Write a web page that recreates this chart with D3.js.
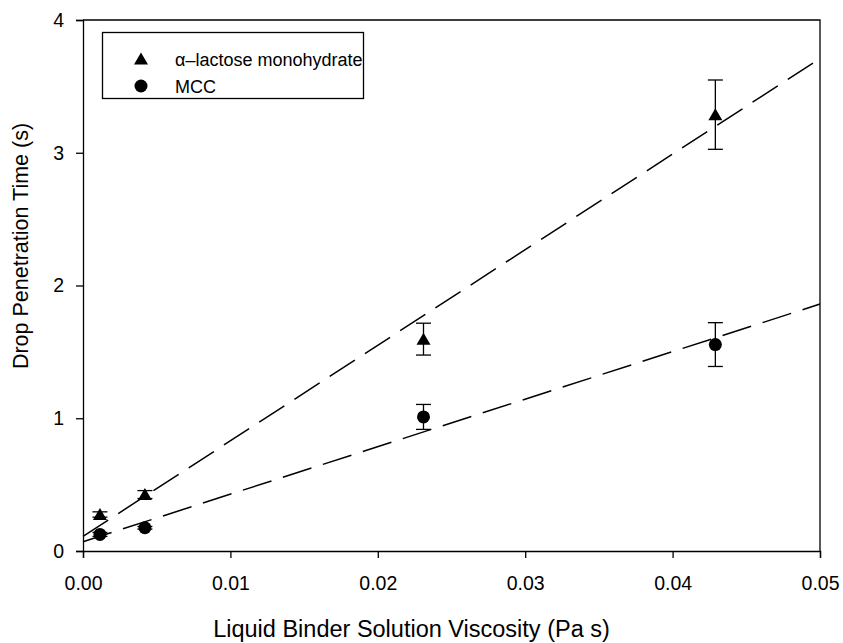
<!DOCTYPE html>
<html>
<head>
<meta charset="utf-8">
<script src="https://cdn.jsdelivr.net/npm/d3@7"></script>
<style>
  html, body { margin: 0; padding: 0; background: #fff; }
  svg { display: block; font-family: Arial, "Liberation Sans", sans-serif; }
</style>
</head>
<body>
<svg id="chart" width="843" height="643"></svg>
<script>
// Viscosity of the binder solution (Pa s)
const viscosity = [0.00115, 0.0042, 0.0231, 0.0429];

// Drop penetration time (s) and standard deviations
const lactoseTime = [0.275, 0.425, 1.596, 3.287];
const lactoseErr  = [0.02, 0.03, 0.12, 0.261];
const mccTime     = [0.125, 0.175, 1.01, 1.555];
const mccErr      = [0.015, 0.01, 0.094, 0.165];

// Linear fits, evaluated at the ends of the x range
const fitX       = [0, 0.05];
const fitLactose = [0.11, 3.71];
const fitMCC     = [0.07, 1.86];

const xTicks = [0, 0.01, 0.02, 0.03, 0.04, 0.05];
const yTicks = [0, 1, 2, 3, 4];

const legendLabels = ["\u03b1\u2013lactose monohydrate", "MCC"];

const margin = { left: 83, right: 23, top: 20, bottom: 92 };
const W = 843, H = 643;
const svg = d3.select("#chart");

const x = d3.scaleLinear().domain([0, 0.05]).range([margin.left, W - margin.right]);
const y = d3.scaleLinear().domain([0, 4]).range([H - margin.bottom, margin.top]);

// Frame (top and right edges)
svg.append("path")
  .attr("d", `M${x(0)},${y(4)}H${x(0.05)}V${y(0)}`)
  .attr("fill", "none").attr("stroke", "#000").attr("stroke-width", 1.3);

// Axes
const xAxis = svg.append("g")
  .attr("transform", `translate(0,${y(0)})`)
  .call(d3.axisBottom(x).tickValues(xTicks).tickFormat(d3.format(".2f")).tickSize(7).tickPadding(18));
const yAxis = svg.append("g")
  .attr("transform", `translate(${x(0)},0)`)
  .call(d3.axisLeft(y).tickValues(yTicks).tickFormat(d3.format("d")).tickSize(7).tickPadding(12));

[xAxis, yAxis].forEach(g => {
  g.select(".domain").attr("stroke-width", 1.3);
  g.selectAll(".tick line").attr("stroke-width", 1.3);
  g.selectAll("text").attr("font-size", 19.5).attr("fill", "#000")
    .attr("font-family", "Arial, 'Liberation Sans', sans-serif");
});

// Axis titles
svg.append("text")
  .attr("x", (x(0) + x(0.05)) / 2 - 40).attr("y", 637)
  .attr("text-anchor", "middle").attr("font-size", 23.5)
  .text("Liquid Binder Solution Viscosity (Pa s)");
svg.append("text")
  .attr("transform", `translate(28,246) rotate(-90)`)
  .attr("text-anchor", "middle").attr("font-size", 21.5)
  .text("Drop Penetration Time (s)");

// Fit lines
const line = d3.line().x(d => x(d[0])).y(d => y(d[1]));
[fitLactose, fitMCC].forEach(fit => {
  svg.append("path")
    .datum(fitX.map((v, i) => [v, fit[i]]))
    .attr("d", line)
    .attr("fill", "none").attr("stroke", "#000").attr("stroke-width", 1.5)
    .attr("stroke-dasharray", "30,12");
});

// Error bars
const capHalf = 7.5;
function errorBars(vals, errs) {
  const g = svg.append("g").attr("stroke", "#000").attr("stroke-width", 1.3);
  viscosity.forEach((v, i) => {
    const cx = x(v), lo = y(vals[i] - errs[i]), hi = y(vals[i] + errs[i]);
    g.append("line").attr("x1", cx).attr("x2", cx).attr("y1", lo).attr("y2", hi);
    g.append("line").attr("x1", cx - capHalf).attr("x2", cx + capHalf).attr("y1", lo).attr("y2", lo);
    g.append("line").attr("x1", cx - capHalf).attr("x2", cx + capHalf).attr("y1", hi).attr("y2", hi);
  });
}
errorBars(lactoseTime, lactoseErr);
errorBars(mccTime, mccErr);

// Markers
const triPath = "M0,-6.5L7,5.5L-7,5.5Z";
svg.append("g").selectAll("path")
  .data(viscosity.map((v, i) => [v, lactoseTime[i]]))
  .join("path")
  .attr("d", triPath)
  .attr("transform", d => `translate(${x(d[0])},${y(d[1])})`)
  .attr("fill", "#000");
svg.append("g").selectAll("circle")
  .data(viscosity.map((v, i) => [v, mccTime[i]]))
  .join("circle")
  .attr("cx", d => x(d[0])).attr("cy", d => y(d[1])).attr("r", 6.5)
  .attr("fill", "#000");

// Legend
const lg = svg.append("g");
lg.append("rect")
  .attr("x", 102.5).attr("y", 32.5).attr("width", 261).attr("height", 66)
  .attr("fill", "#fff").attr("stroke", "#000").attr("stroke-width", 1.3);
lg.append("path").attr("d", triPath).attr("transform", "translate(141,59)").attr("fill", "#000");
lg.append("circle").attr("cx", 141).attr("cy", 86).attr("r", 6.5).attr("fill", "#000");
legendLabels.forEach((t, i) => {
  lg.append("text").attr("x", 175).attr("y", 66 + i * 27)
    .attr("font-size", 18).text(t);
});
</script>
</body>
</html>
